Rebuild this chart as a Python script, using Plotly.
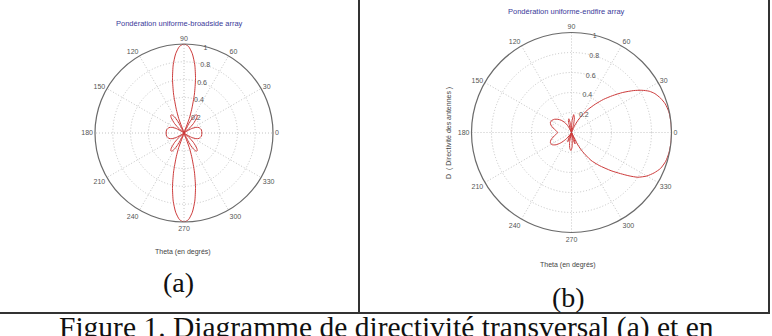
import plotly.graph_objects as go

# ---------------- data ----------------
# (a) broadside array, normalised directivity
theta_a = [0, 10, 20, 25, 30, 35, 36.9, 40, 45, 50, 53, 56, 60, 63, 66.4, 70, 72, 75, 78, 81, 84, 87, 90,
           93, 96, 99, 102, 105, 108, 110, 113.6, 117, 120, 124, 127, 130, 135, 140, 143.1, 145, 150, 155, 160, 170, 180,
           190, 200, 205, 210, 215, 216.9, 220, 225, 230, 233, 236, 240, 243, 246.4, 250, 252, 255, 258, 261, 264, 267, 270,
           273, 276, 279, 282, 285, 288, 290, 293.6, 297, 300, 304, 307, 310, 315, 320, 323.1, 325, 330, 335, 340, 350, 360]
r_a = [0.2, 0.199, 0.179, 0.15, 0.101, 0.031, 0.0, 0.057, 0.149, 0.223, 0.247, 0.247, 0.2, 0.126, 0.0, 0.172, 0.281, 0.453, 0.622, 0.775, 0.895, 0.974, 1.0,
       0.974, 0.895, 0.775, 0.622, 0.453, 0.281, 0.172, 0.0, 0.126, 0.2, 0.247, 0.247, 0.223, 0.149, 0.057, 0.0, 0.031, 0.101, 0.15, 0.179, 0.199, 0.2,
       0.199, 0.179, 0.15, 0.101, 0.031, 0.0, 0.057, 0.149, 0.223, 0.247, 0.247, 0.2, 0.126, 0.0, 0.172, 0.281, 0.453, 0.622, 0.775, 0.895, 0.974, 1.0,
       0.974, 0.895, 0.775, 0.622, 0.453, 0.281, 0.172, 0.0, 0.126, 0.2, 0.247, 0.247, 0.223, 0.149, 0.057, 0.0, 0.031, 0.101, 0.15, 0.179, 0.199, 0.2]

# (b) endfire array, normalised directivity
theta_b = [0, 6, 12, 17, 21, 25, 28, 31, 34, 38, 42, 46, 50, 54, 58, 62, 66, 70,
           75, 79, 83, 87, 90, 93, 97, 101, 105, 109, 112, 118, 124, 130, 136, 142, 148, 154, 160, 166, 172, 180,
           188, 194, 200, 206, 212, 218, 224, 230, 236, 240, 244, 248, 252, 255, 259, 264, 268, 272, 276, 279,
           283, 287, 290, 293, 297, 300, 305, 310, 316, 320, 323, 326, 330, 334, 338, 343, 348, 354, 360]
r_b = [1.0, 1.0, 0.995, 0.98, 0.955, 0.92, 0.88, 0.82, 0.75, 0.65, 0.55, 0.46, 0.37, 0.29, 0.21, 0.14, 0.07, 0.0,
       0.08, 0.15, 0.18, 0.12, 0.03, 0.0, 0.09, 0.14, 0.12, 0.04, 0.0, 0.07, 0.12, 0.16, 0.19, 0.215, 0.23, 0.235, 0.22, 0.19, 0.16, 0.14,
       0.16, 0.19, 0.22, 0.235, 0.23, 0.2, 0.15, 0.09, 0.03, 0.0, 0.06, 0.1, 0.08, 0.0, 0.1, 0.16, 0.18, 0.15, 0.06, 0.0,
       0.07, 0.12, 0.1, 0.0, 0.14, 0.22, 0.34, 0.43, 0.55, 0.64, 0.72, 0.8, 0.87, 0.92, 0.96, 0.985, 0.995, 1.0, 1.0]

angle_ticks = [0, 30, 60, 90, 120, 150, 180, 210, 240, 270, 300, 330]
radial_ticks = [0.2, 0.4, 0.6, 0.8, 1.0]
radial_labels = ["0.2", "0.4", "0.6", "0.8", "1"]

title_a = "Pondération uniforme-broadside array"
title_b = "Pondération uniforme-endfire array"
xlabel = "Theta (en degrés)"
ylabel_b = "D  ( Directivité des antennes )"
caption = "Figure 1. Diagramme de directivité transversal (a) et en"

# ---------------- figure ----------------
W, H = 772, 336
RED = "#cc3b3b"
TICKFONT = dict(family="Liberation Sans, Arial", size=7, color="#555555")
GRID = "#c4c4c4"

fig = go.Figure()
fig.add_trace(go.Scatterpolar(r=r_a, theta=theta_a, mode="lines", subplot="polar",
                              line=dict(color=RED, width=1, shape="spline", smoothing=0.6),
                              showlegend=False, hoverinfo="skip"))
fig.add_trace(go.Scatterpolar(r=r_b, theta=theta_b, mode="lines", subplot="polar2",
                              line=dict(color=RED, width=1, shape="spline", smoothing=0.6),
                              showlegend=False, hoverinfo="skip"))


def polar_cfg(cx, cy, R):
    return dict(
        domain=dict(x=[(cx - R) / W, (cx + R) / W], y=[(H - cy - R) / H, (H - cy + R) / H]),
        bgcolor="white",
        angularaxis=dict(rotation=0, direction="counterclockwise", tickvals=angle_ticks,
                         ticktext=[str(v) for v in angle_ticks], ticks="",
                         showline=True, linecolor="#6a6a6a", linewidth=1.2,
                         gridcolor=GRID, griddash="1px,2px", gridwidth=1,
                         tickfont=TICKFONT),
        radialaxis=dict(range=[0, 1], tickvals=radial_ticks, ticktext=radial_labels,
                        angle=80, tickangle=80, showline=False, ticks="",
                        gridcolor=GRID, griddash="1px,2px", gridwidth=1,
                        tickfont=TICKFONT),
    )


fig.update_layout(
    width=W, height=H,
    margin=dict(l=0, r=0, t=0, b=0),
    paper_bgcolor="white",
    polar=polar_cfg(184, 133, 89),
    polar2=polar_cfg(571.5, 132.5, 100),
)

small = dict(family="Liberation Sans, Arial", size=7, color="#444444")
serif = "Liberation Serif, Times New Roman"
ann = [
    dict(x=179, y=24, text=title_a, font=dict(family="Liberation Sans, Arial", size=7.5, color="#3a3a9a")),
    dict(x=566, y=12, text=title_b, font=dict(family="Liberation Sans, Arial", size=7.5, color="#3a3a9a")),
    dict(x=183, y=252, text=xlabel, font=small),
    dict(x=568, y=265, text=xlabel, font=small),
    dict(x=449, y=133, text=ylabel_b, font=small, textangle=-90),
    dict(x=178, y=282, text="(a)", font=dict(family=serif, size=28, color="#111111")),
    dict(x=568, y=297, text="(b)", font=dict(family=serif, size=28, color="#111111")),
    dict(x=386, y=327, text=caption, font=dict(family=serif, size=29.5, color="#111111")),
]
fig.update_layout(annotations=[dict(a, xref="paper", yref="paper", x=a["x"] / W, y=1 - a["y"] / H,
                                    xanchor="center", yanchor="middle", showarrow=False)
                               for a in ann])

line = dict(color="#333333", width=2)
fig.update_layout(shapes=[
    dict(type="line", xref="paper", yref="paper", x0=0, x1=770 / W, y0=1 - 313 / H, y1=1 - 313 / H, line=line),
    dict(type="line", xref="paper", yref="paper", x0=359 / W, x1=359 / W, y0=1 - 313 / H, y1=1, line=line),
    dict(type="line", xref="paper", yref="paper", x0=769 / W, x1=769 / W, y0=1 - 313 / H, y1=1, line=line),
])

fig.write_html("out.html")
